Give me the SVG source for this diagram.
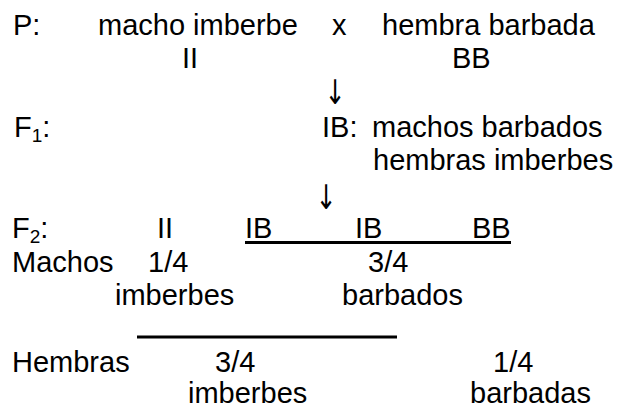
<svg xmlns="http://www.w3.org/2000/svg" width="617" height="409" viewBox="0 0 617 409">
<style>
text{font-family:"Liberation Sans",Arial,sans-serif;font-size:29px;fill:#000}
.sub{font-size:19px}
.arrow{font-family:"DejaVu Sans",sans-serif;font-size:25px}
.rule{stroke:#000;stroke-width:3}
</style>
<rect width="617" height="409" fill="#fff"/>
<g id="parents">
<text x="13" y="35">P:</text>
<text x="98" y="35">macho imberbe</text>
<text x="332" y="35">x</text>
<text x="382" y="35">hembra barbada</text>
<text x="182" y="68">II</text>
<text x="452" y="68">BB</text>
</g>
<g id="arrows">
<text class="arrow" transform="translate(335,104) scale(1,1.35)" text-anchor="middle">↓</text>
<text class="arrow" transform="translate(326,209) scale(1,1.35)" text-anchor="middle">↓</text>
</g>
<g id="f1">
<text x="14" y="137">F<tspan class="sub" dy="5">1</tspan><tspan dy="-5">:</tspan></text>
<text x="322" y="137">IB:</text>
<text x="372" y="137">machos barbados</text>
<text x="373" y="170">hembras imberbes</text>
</g>
<g id="f2">
<text x="12" y="238">F<tspan class="sub" dy="5">2</tspan><tspan dy="-5">:</tspan></text>
<text x="157" y="238">II</text>
<text x="245" y="238">IB</text>
<text x="355" y="238">IB</text>
<text x="472" y="238">BB</text>
<line class="rule" x1="245" y1="242.5" x2="511" y2="242.5"/>
</g>
<g id="machos">
<text x="12" y="272">Machos</text>
<text x="148" y="272">1/4</text>
<text x="368" y="272">3/4</text>
<text x="115" y="305">imberbes</text>
<text x="342" y="305">barbados</text>
</g>
<g id="hembras">
<line class="rule" x1="137" y1="337" x2="397" y2="337"/>
<text x="12" y="372">Hembras</text>
<text x="215" y="372">3/4</text>
<text x="493" y="372">1/4</text>
<text x="188" y="403">imberbes</text>
<text x="470" y="403">barbadas</text>
</g>
</svg>
